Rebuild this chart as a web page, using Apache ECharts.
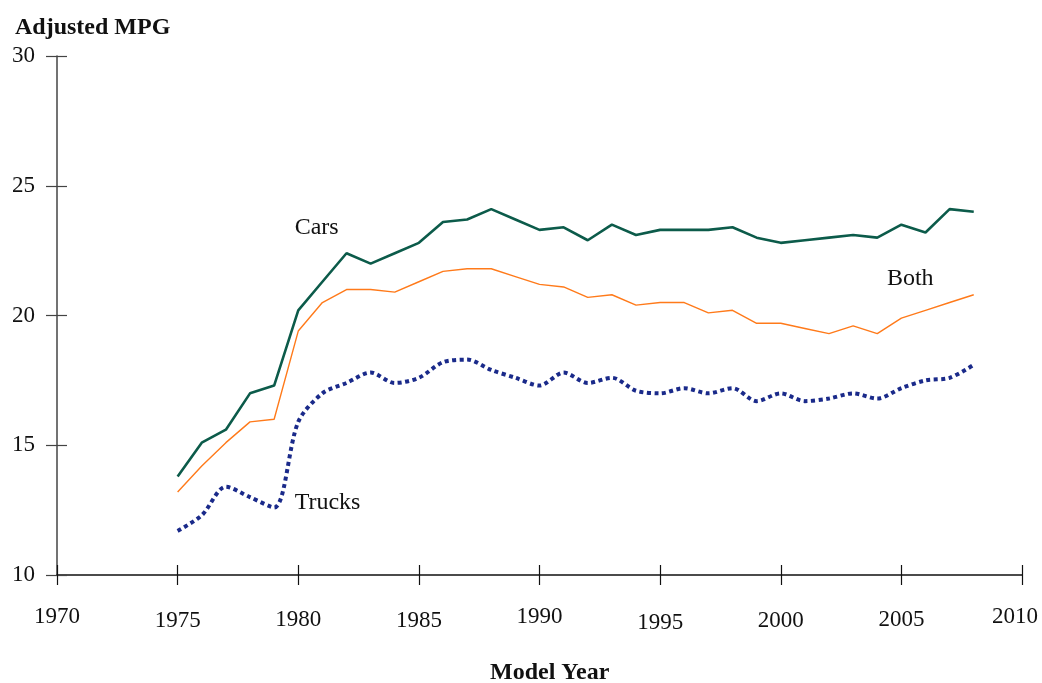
<!DOCTYPE html>
<html lang="en">
<head>
    <meta charset="UTF-8">
    <title>Adjusted MPG by Model Year</title>
    <style>
        html, body { margin: 0; padding: 0; background: #fff; }
    </style>
</head>
<body>
<div id="main" style="width:1042px; height: 683px"></div>

<script src="https://cdn.jsdelivr.net/npm/echarts@6/dist/echarts.min.js"></script>
<script>
    // model years 1975 - 2008
    var years = [1975, 1976, 1977, 1978, 1979, 1980, 1981, 1982, 1983, 1984,
        1985, 1986, 1987, 1988, 1989, 1990, 1991, 1992, 1993, 1994,
        1995, 1996, 1997, 1998, 1999, 2000, 2001, 2002, 2003, 2004,
        2005, 2006, 2007, 2008];

    var cars = [13.8, 15.1, 15.6, 17.0, 17.3, 20.2, 21.3, 22.4, 22.0, 22.4,
        22.8, 23.6, 23.7, 24.1, 23.7, 23.3, 23.4, 22.9, 23.5, 23.1,
        23.3, 23.3, 23.3, 23.4, 23.0, 22.8, 22.9, 23.0, 23.1, 23.0,
        23.5, 23.2, 24.1, 24.0];

    var both = [13.2, 14.2, 15.1, 15.9, 16.0, 19.4, 20.5, 21.0, 21.0, 20.9,
        21.3, 21.7, 21.8, 21.8, 21.5, 21.2, 21.1, 20.7, 20.8, 20.4,
        20.5, 20.5, 20.1, 20.2, 19.7, 19.7, 19.5, 19.3, 19.6, 19.3,
        19.9, 20.2, 20.5, 20.8];

    var trucks = [11.7, 12.3, 13.4, 13.0, 12.6, 15.9, 17.0, 17.4, 17.8, 17.4,
        17.6, 18.2, 18.3, 17.9, 17.6, 17.3, 17.8, 17.4, 17.6, 17.1,
        17.0, 17.2, 17.0, 17.2, 16.7, 17.0, 16.7, 16.8, 17.0, 16.8,
        17.2, 17.5, 17.6, 18.1];

    var xTicks = [1970, 1975, 1980, 1985, 1990, 1995, 2000, 2005, 2010];
    var yTicks = [10, 15, 20, 25, 30];

    // series name labels, placed in data space [year, mpg]
    var seriesLabels = [
        { text: 'Cars', at: [1979.85, 23.4] },
        { text: 'Both', at: [2004.4, 21.4] },
        { text: 'Trucks', at: [1979.85, 12.8] }
    ];

    // tick labels in the original sit at slightly different heights
    var labelDrop = { 1970: 0, 1975: 4, 1980: 3, 1985: 4, 1990: 0, 1995: 6, 2000: 4, 2005: 3, 2010: 0 };

    var serif = '"Liberation Serif", "DejaVu Serif", serif';

    function pairs(vals) {
        return years.map(function (y, i) { return [y, vals[i]]; });
    }

    function nameLabel(item) {
        return {
            silent: true,
            symbol: 'none',
            label: { show: false },
            data: [{
                coord: item.at,
                symbol: 'circle',
                symbolSize: 0,
                label: {
                    show: true,
                    position: 'right',
                    distance: 0,
                    formatter: item.text,
                    color: '#111',
                    fontFamily: serif,
                    fontSize: 24
                }
            }]
        };
    }

    var xRich = {};
    xTicks.forEach(function (t) {
        // last label is pulled in a little from the right edge
        var right = t === 2010 ? 14 : 0;
        xRich['y' + t] = { fontFamily: serif, fontSize: 23, color: '#111', padding: [labelDrop[t], right, 0, 0] };
    });

    var xBase = { type: 'value', min: xTicks[0], max: xTicks[xTicks.length - 1], interval: 5 };
    var yBase = { type: 'value', min: yTicks[0], max: yTicks[yTicks.length - 1], interval: 5 };

    var myChart = echarts.init(document.getElementById('main'));
    var option = {
        animation: false,
        backgroundColor: '#fff',
        grid: { left: 57, right: 20, top: 56, bottom: 108, containLabel: false, outerBoundsMode: 'none' },
        title: [
            { text: 'Adjusted MPG', left: 10, top: 11,
              textStyle: { fontFamily: serif, fontWeight: 'bold', fontSize: 24, color: '#111' } },
            { text: 'Model Year', left: 485, top: 656,
              textStyle: { fontFamily: serif, fontWeight: 'bold', fontSize: 24, color: '#111' } }
        ],
        xAxis: [
            Object.assign({}, xBase, {
                axisLine: { show: true, onZero: false, lineStyle: { color: '#111', width: 1.5 } },
                axisTick: { show: true, length: 10, lineStyle: { color: '#111', width: 1.2 } },
                splitLine: { show: false },
                axisLabel: {
                    margin: 30,
                    verticalAlign: 'top',
                    formatter: function (v) { return '{y' + v + '|' + v + '}'; },
                    rich: xRich
                }
            }),
            Object.assign({}, xBase, {
                position: 'bottom',
                axisLine: { show: false },
                axisTick: { show: true, inside: true, length: 10, lineStyle: { color: '#111', width: 1.2 } },
                splitLine: { show: false },
                axisLabel: { show: false }
            })
        ],
        yAxis: [
            Object.assign({}, yBase, {
                axisLine: { show: true, onZero: false, lineStyle: { color: '#444', width: 1.5 } },
                axisTick: { show: true, length: 11, lineStyle: { color: '#444', width: 1.2 } },
                splitLine: { show: false },
                axisLabel: { margin: 22, fontFamily: serif, fontSize: 23, color: '#111' }
            }),
            Object.assign({}, yBase, {
                position: 'left',
                axisLine: { show: false },
                axisTick: { show: true, inside: true, length: 10, lineStyle: { color: '#444', width: 1.2 } },
                splitLine: { show: false },
                axisLabel: { show: false }
            })
        ],
        series: [
            {
                name: 'Cars',
                type: 'line',
                data: pairs(cars),
                symbol: 'none',
                lineStyle: { color: '#0c5b4a', width: 2.6 },
                markPoint: nameLabel(seriesLabels[0])
            },
            {
                name: 'Both',
                type: 'line',
                data: pairs(both),
                symbol: 'none',
                lineStyle: { color: '#ff7a1a', width: 1.4 },
                markPoint: nameLabel(seriesLabels[1])
            },
            {
                name: 'Trucks',
                type: 'line',
                data: pairs(trucks),
                symbol: 'none',
                smooth: 0.3,
                lineStyle: { color: '#1a2a8a', width: 4, type: [4, 3.5], cap: 'butt' },
                markPoint: nameLabel(seriesLabels[2])
            }
        ]
    };
    myChart.setOption(option);
</script>
</body>
</html>
